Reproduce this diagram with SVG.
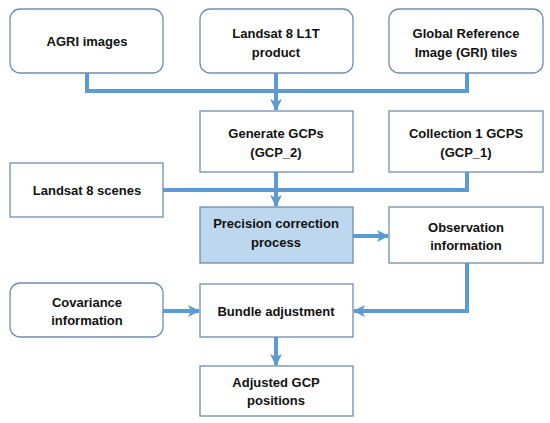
<svg xmlns="http://www.w3.org/2000/svg" width="550" height="423" viewBox="0 0 550 423">
<style>
.box{fill:#fff;stroke:#6f8db0;stroke-width:1.3}
.hl{fill:#bdd7ee}
.t{font-family:"Liberation Sans",Arial,sans-serif;font-weight:bold;font-size:13px;fill:#111;text-anchor:middle}
.c{fill:none;stroke:#5b9bd5;stroke-width:4}
</style>
<defs>
<marker id="ah" markerUnits="userSpaceOnUse" markerWidth="12" markerHeight="12" viewBox="0 0 12 12" refX="11" refY="6" orient="auto">
<path d="M0,0 L12,6 L0,12 L3,6 Z" fill="#5b9bd5"/>
</marker>
</defs>
<rect width="550" height="423" fill="#fff"/>
<g id="connectors">
<polyline class="c" points="87,73 87,91 467,91 467,73"/>
<line class="c" x1="276" y1="73" x2="276" y2="110" marker-end="url(#ah)"/>
<polyline class="c" points="163,190 467,190 467,172"/>
<line class="c" x1="276" y1="172" x2="276" y2="206" marker-end="url(#ah)"/>
<line class="c" x1="353" y1="236" x2="388" y2="236" marker-end="url(#ah)"/>
<line class="c" x1="163" y1="311" x2="199" y2="311" marker-end="url(#ah)"/>
<polyline class="c" points="467,263 467,311 354,311" marker-end="url(#ah)"/>
<line class="c" x1="276" y1="337" x2="276" y2="365" marker-end="url(#ah)"/>
</g>
<g id="agri"><rect class="box" x="10" y="9" width="153" height="64" rx="10"/><text class="t" x="87" y="46">AGRI images</text></g>
<g id="l1t"><rect class="box" x="200" y="9" width="153" height="64" rx="10"/><text class="t" x="276" y="38">Landsat 8 L1T</text><text class="t" x="276" y="57">product</text></g>
<g id="gri"><rect class="box" x="389" y="9" width="154" height="64" rx="10"/><text class="t" x="466" y="38">Global Reference</text><text class="t" x="466" y="57">Image (GRI) tiles</text></g>
<g id="gcp2"><rect class="box" x="200" y="111" width="153" height="61"/><text class="t" x="276" y="138">Generate GCPs</text><text class="t" x="276" y="157">(GCP_2)</text></g>
<g id="gcp1"><rect class="box" x="389" y="111" width="154" height="61"/><text class="t" x="466" y="138">Collection 1 GCPS</text><text class="t" x="466" y="157">(GCP_1)</text></g>
<g id="scenes"><rect class="box" x="10" y="163" width="153" height="54"/><text class="t" x="87" y="195">Landsat 8 scenes</text></g>
<g id="precision"><rect class="box hl" x="200" y="207" width="153" height="56"/><text class="t" x="276" y="228">Precision correction</text><text class="t" x="276" y="247">process</text></g>
<g id="observation"><rect class="box" x="389" y="207" width="154" height="56"/><text class="t" x="466" y="232">Observation</text><text class="t" x="466" y="250">information</text></g>
<g id="covariance"><rect class="box" x="10" y="283" width="153" height="54" rx="10"/><text class="t" x="87" y="307">Covariance</text><text class="t" x="87" y="325">information</text></g>
<g id="bundle"><rect class="box" x="200" y="284" width="153" height="53"/><text class="t" x="276" y="316">Bundle adjustment</text></g>
<g id="adjusted"><rect class="box" x="200" y="366" width="153" height="50"/><text class="t" x="276" y="387">Adjusted GCP</text><text class="t" x="276" y="405">positions</text></g>
</svg>
